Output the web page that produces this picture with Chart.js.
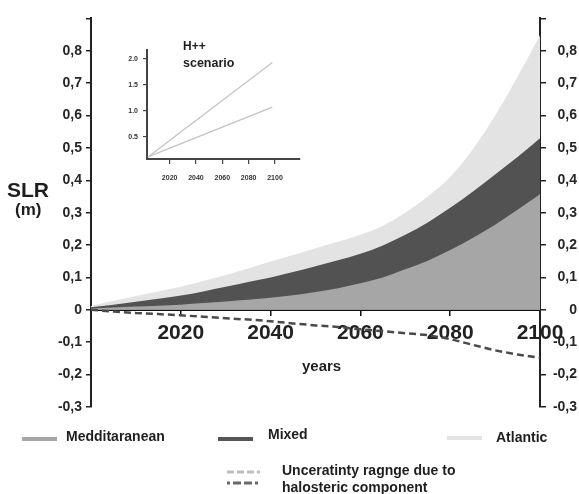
<!DOCTYPE html>
<html><head><meta charset="utf-8">
<script src="https://cdn.jsdelivr.net/npm/chart.js@4.4.0/dist/chart.umd.min.js"></script>
<style>
html,body{margin:0;padding:0;background:#fff;}
#wrap{position:relative;width:579px;height:494px;overflow:hidden;font-family:"Liberation Sans",Arial,sans-serif;color:#1e1e1e;}
#main{position:absolute;left:0;top:0;}
#inset{position:absolute;left:100px;top:30px;}
.t{position:absolute;font-weight:bold;white-space:nowrap;}
.lg{font-size:14px;line-height:14px;}
.sw{position:absolute;height:4px;}
</style></head><body>
<div id="wrap">
<canvas id="main" width="579" height="494"></canvas>
<canvas id="inset" width="210" height="160"></canvas>
<div class="t" style="left:7px;top:179px;font-size:21px;line-height:21px;">SLR</div>
<div class="t" style="left:15px;top:201px;font-size:17px;line-height:17px;">(m)</div>
<div class="t" style="left:302px;top:358px;font-size:15px;line-height:15px;">years</div>
<div class="t" style="left:183px;top:40px;font-size:12px;line-height:12px;">H++</div>
<div class="t" style="left:183px;top:57px;font-size:12.5px;line-height:12.5px;">scenario</div>

<div class="sw" style="left:22px;top:437px;width:35px;background:#a6a6a6"></div>
<div class="t lg" style="left:66px;top:429px;">Medditaranean</div>
<div class="sw" style="left:218px;top:437px;width:35px;background:#555555"></div>
<div class="t lg" style="left:268px;top:427px;">Mixed</div>
<div class="sw" style="left:447px;top:436px;width:35px;background:#e3e3e3"></div>
<div class="t lg" style="left:496px;top:430px;">Atlantic</div>
<svg style="position:absolute;left:225px;top:466px" width="40" height="22">
  <line x1="2" y1="6" x2="38" y2="6" stroke="#bdbdbd" stroke-width="3" stroke-dasharray="7,3,7,3,7,3,3,40"/>
  <line x1="2" y1="17" x2="38" y2="17" stroke="#6a6a6a" stroke-width="3" stroke-dasharray="3,3,8,3,8,3,3,40"/>
</svg>
<div class="t lg" style="left:282px;top:463px;">Unceratinty ragnge due to</div>
<div class="t lg" style="left:282px;top:480px;">halosteric component</div>
</div>
<script>
const years = [2000,2005,2010,2015,2020,2025,2030,2035,2040,2045,2050,2055,2060,2065,2070,2075,2080,2085,2090,2095,2100];
const mediterranean = [0.004,0.007,0.010,0.013,0.016,0.021,0.026,0.031,0.037,0.045,0.055,0.067,0.082,0.100,0.125,0.152,0.185,0.222,0.263,0.309,0.357];
const mixed = [0.008,0.016,0.025,0.034,0.044,0.057,0.071,0.086,0.100,0.117,0.135,0.153,0.173,0.199,0.232,0.270,0.315,0.365,0.418,0.472,0.530];
const atlantic = [0.012,0.028,0.043,0.057,0.071,0.089,0.108,0.128,0.149,0.169,0.190,0.210,0.232,0.260,0.300,0.350,0.410,0.495,0.600,0.720,0.848];
const halosteric = [0,-0.005,-0.010,-0.013,-0.017,-0.021,-0.026,-0.030,-0.035,-0.042,-0.048,-0.053,-0.060,-0.066,-0.072,-0.078,-0.090,-0.108,-0.125,-0.138,-0.148];
const xTicks = [2020,2040,2060,2080,2100];
const yTicks = [-0.3,-0.2,-0.1,0,0.1,0.2,0.3,0.4,0.5,0.6,0.7,0.8,0.9];
const yTickLabels = ['-0,3','-0,2','-0,1','0','0,1','0,2','0,3','0,4','0,5','0,6','0,7','0,8',''];

const insetYears = [2003.5, 2098];
const insetUpper = [0.11, 1.93];
const insetLower = [0.11, 1.07];
const insetXTicks = [2020,2040,2060,2080,2100];
const insetYTicks = [0.5,1,1.5,2];
const insetYTickLabels = ['0.5','1.0','1.5','2.0'];

const pts = arr => years.map((y,i)=>({x:y,y:arr[i]}));
const FONT = '"Liberation Sans", Arial, sans-serif';

const area = (label, arr, color) => ({
  label, data: pts(arr), fill: 'origin', backgroundColor: color, borderWidth: 0,
  pointRadius: 0, cubicInterpolationMode: 'monotone', yAxisID: 'y'
});

const yAxisCommon = {
  type: 'linear', min: -0.3, max: 0.9, z: 1,
  afterBuildTicks: s => { s.ticks = yTicks.map(v => ({value: v})); },
  grid: {drawOnChartArea: false, drawTicks: true, tickLength: 5, color: '#222', lineWidth: 1.5},
  border: {display: true, color: '#222', width: 2},
  ticks: {
    callback: (v, i) => yTickLabels[i],
    font: {family: FONT, size: 14, weight: 'bold'}, color: '#262626'
  }
};

new Chart(document.getElementById('main'), {
  type: 'line',
  data: {
    datasets: [
      {label: 'halosteric', data: pts(halosteric), fill: false, borderColor: '#4a4a4a', borderWidth: 2.5,
       borderDash: [7,4], pointRadius: 0, tension: 0, yAxisID: 'y'},
      area('Medditaranean', mediterranean, '#a6a6a6'),
      area('Mixed', mixed, '#525252'),
      area('Atlantic', atlantic, '#e3e3e3')
    ]
  },
  options: {
    responsive: false, animation: false, devicePixelRatio: 1,
    layout: {padding: {top: 14, bottom: 87, left: 0, right: 2}},
    plugins: {legend: {display: false}, tooltip: {enabled: false}},
    scales: {
      x: {
        type: 'linear', min: 2000, max: 2100, position: {y: 0}, z: 2,
        afterBuildTicks: s => { s.ticks = xTicks.map(v => ({value: v})); },
        grid: {drawOnChartArea: false, drawTicks: true, tickLength: 5, color: '#111', lineWidth: 1.5},
        border: {display: true, color: '#111', width: 3},
        ticks: {
          callback: v => String(v), padding: 6,
          font: {family: FONT, size: 21, weight: 'bold'}, color: '#222',
          showLabelBackdrop: true, backdropColor: '#ffffff', backdropPadding: {top: 1, bottom: 1, left: 1, right: 1}
        }
      },
      y: Object.assign({}, yAxisCommon, {
        position: 'left',
        afterFit: s => { s.width = 91; },
        ticks: Object.assign({}, yAxisCommon.ticks, {padding: 4})
      }),
      y2: Object.assign({}, yAxisCommon, {
        position: 'right',
        afterFit: s => { s.width = 37; },
        grid: Object.assign({}, yAxisCommon.grid, {tickLength: 6}),
        ticks: Object.assign({}, yAxisCommon.ticks, {padding: 10, crossAlign: 'far'})
      })
    }
  }
});

new Chart(document.getElementById('inset'), {
  type: 'line',
  data: {
    datasets: [
      {label: 'upper', data: insetYears.map((y,i)=>({x:y,y:insetUpper[i]})), borderColor: '#c4c4c4', borderWidth: 1.3, pointRadius: 0, fill: false},
      {label: 'lower', data: insetYears.map((y,i)=>({x:y,y:insetLower[i]})), borderColor: '#c4c4c4', borderWidth: 1.3, pointRadius: 0, fill: false}
    ]
  },
  options: {
    responsive: false, animation: false, devicePixelRatio: 1,
    layout: {padding: {top: 20, bottom: 0, left: 0, right: 10}},
    plugins: {legend: {display: false}, tooltip: {enabled: false}},
    scales: {
      x: {
        type: 'linear', min: 2002.8, max: 2119, position: 'bottom',
        afterBuildTicks: s => { s.ticks = insetXTicks.map(v => ({value: v})); },
        afterFit: s => { s.height = 31; },
        grid: {drawOnChartArea: false, drawTicks: true, tickLength: 5, color: '#444', lineWidth: 1.2},
        border: {display: true, color: '#444', width: 2},
        ticks: {callback: v => String(v), padding: 10, maxRotation: 0, autoSkip: false,
          font: {family: FONT, size: 7, weight: 'bold'}, color: '#333'}
      },
      y: {
        type: 'linear', min: 0.07, max: 2.17, position: 'left',
        afterBuildTicks: s => { s.ticks = insetYTicks.map(v => ({value: v})); },
        afterFit: s => { s.width = 47; },
        grid: {drawOnChartArea: false, drawTicks: true, tickLength: 4, color: '#444', lineWidth: 1.2},
        border: {display: true, color: '#444', width: 2},
        ticks: {callback: (v, i) => insetYTickLabels[i], padding: 5,
          font: {family: FONT, size: 7, weight: 'bold'}, color: '#333'}
      }
    }
  }
});
</script>
</body></html>
